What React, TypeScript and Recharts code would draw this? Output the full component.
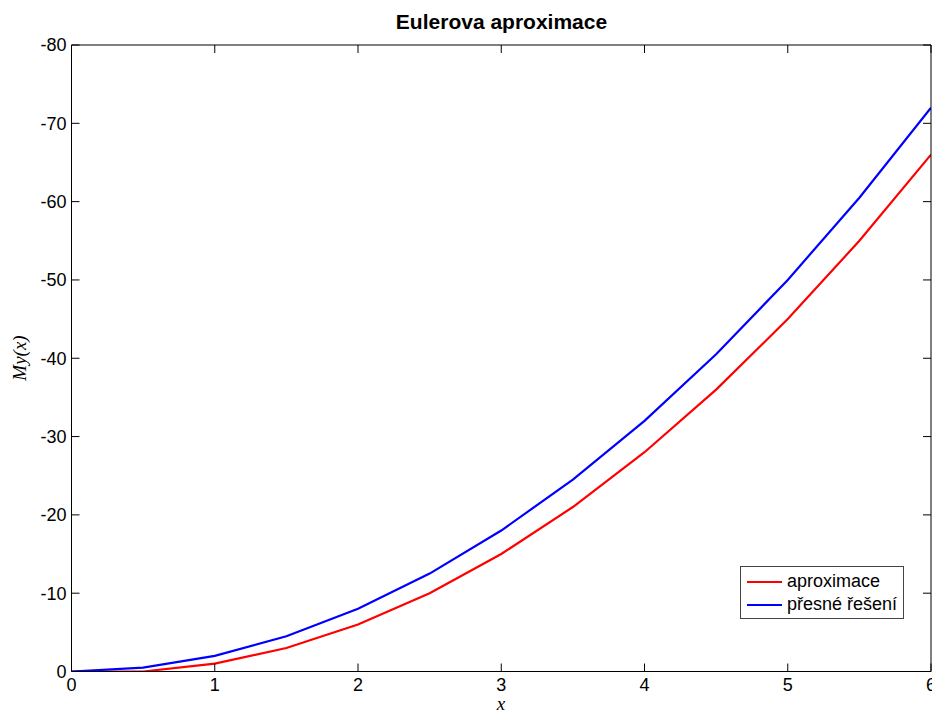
import React from 'react';
import { LineChart, Line, XAxis, YAxis, Legend } from 'recharts';

// x values (step 0.5) and the two series
const xValues = [0, 0.5, 1, 1.5, 2, 2.5, 3, 3.5, 4, 4.5, 5, 5.5, 6];
const aproximace = [0, 0, -1, -3, -6, -10, -15, -21, -28, -36, -45, -55, -66];
const presneReseni = [0, -0.5, -2, -4.5, -8, -12.5, -18, -24.5, -32, -40.5, -50, -60.5, -72];

const xTicks = [0, 1, 2, 3, 4, 5, 6];
const yTicks = [-80, -70, -60, -50, -40, -30, -20, -10, 0];

const seriesNames = ['aproximace', 'přesné řešení'];
const seriesColors = ['#ff0000', '#0000ff'];

const data = xValues.map((x, i) => ({
  x,
  aproximace: aproximace[i],
  presne: presneReseni[i],
}));

const FONT = '"Liberation Sans", Arial, sans-serif';
const TICK_LEN = 8;
const AXIS_COLOR = '#000';

// MATLAB style ticks: pointing into the plot box
function LeftTick(props: any) {
  const { x, y, payload } = props;
  const ax = x + 5;
  return (
    <g>
      <line x1={ax} x2={ax + TICK_LEN} y1={y} y2={y} stroke={AXIS_COLOR} />
      <text x={x} y={y} dy="0.36em" textAnchor="end" fontSize={18} fontFamily={FONT} fill="#000">
        {payload.value}
      </text>
    </g>
  );
}

function BottomTick(props: any) {
  const { x, y, payload } = props;
  const ay = y - 7;
  return (
    <g>
      <line x1={x} x2={x} y1={ay} y2={ay - TICK_LEN} stroke={AXIS_COLOR} />
      <text x={x} y={y} dy="0.71em" textAnchor="middle" fontSize={18} fontFamily={FONT} fill="#000">
        {payload.value}
      </text>
    </g>
  );
}

function RightTick(props: any) {
  const { x, y } = props;
  return <line x1={x} x2={x - TICK_LEN} y1={y} y2={y} stroke={AXIS_COLOR} />;
}

function TopTick(props: any) {
  const { x, y } = props;
  return <line x1={x} x2={x} y1={y} y2={y + TICK_LEN} stroke={AXIS_COLOR} />;
}

function LegendBox() {
  return (
    <div
      style={{
        width: 162,
        height: 51,
        border: '1px solid #444',
        background: '#fff',
        fontFamily: FONT,
        fontSize: 18,
        color: '#000',
        boxSizing: 'content-box',
      }}
    >
      {seriesNames.map((name, i) => (
        <div key={name} style={{ display: 'flex', alignItems: 'center', height: 23, marginTop: i === 0 ? 3 : 0 }}>
          <svg width={46} height={23} style={{ display: 'block' }}>
            <line x1={6} x2={41} y1={12} y2={12} stroke={seriesColors[i]} strokeWidth={2} />
          </svg>
          <span style={{ lineHeight: '23px' }}>{name}</span>
        </div>
      ))}
    </div>
  );
}

export default function App() {
  return (
    <div style={{ position: 'absolute', left: 0, top: 0, width: 932, height: 713, background: '#fff', overflow: 'hidden' }}>
      <LineChart width={932} height={713} data={data} margin={{ top: 44, right: 0, bottom: 0, left: 0 }}>
        <XAxis
          dataKey="x"
          type="number"
          domain={[0, 6]}
          ticks={xTicks}
          interval={0}
          allowDataOverflow
          height={41.5}
          tickSize={0}
          tickMargin={7}
          tickLine={false}
          axisLine={{ stroke: AXIS_COLOR }}
          tick={<BottomTick />}
        />
        <XAxis
          xAxisId="top"
          orientation="top"
          dataKey="x"
          type="number"
          domain={[0, 6]}
          ticks={xTicks}
          interval={0}
          allowDataOverflow
          height={1}
          tickSize={0}
          tickMargin={0}
          tickLine={false}
          axisLine={{ stroke: AXIS_COLOR }}
          tick={<TopTick />}
        />
        <YAxis
          type="number"
          domain={[-80, 0]}
          ticks={yTicks}
          interval={0}
          reversed
          allowDataOverflow
          width={71.5}
          tickSize={0}
          tickMargin={5}
          tickLine={false}
          axisLine={{ stroke: AXIS_COLOR }}
          tick={<LeftTick />}
        />
        <YAxis
          yAxisId="right"
          orientation="right"
          type="number"
          domain={[-80, 0]}
          ticks={yTicks}
          interval={0}
          reversed
          allowDataOverflow
          width={1}
          tickSize={0}
          tickMargin={0}
          tickLine={false}
          axisLine={{ stroke: AXIS_COLOR }}
          tick={<RightTick />}
        />
        <Legend
          layout="horizontal"
          verticalAlign="middle"
          align="center"
          content={<LegendBox />}
          wrapperStyle={{ left: 740, top: 566, right: 'auto', bottom: 'auto', width: 164 }}
        />
        <Line
          type="linear"
          dataKey="aproximace"
          name={seriesNames[0]}
          stroke={seriesColors[0]}
          strokeWidth={2.2}
          dot={false}
          isAnimationActive={false}
        />
        <Line
          type="linear"
          dataKey="presne"
          name={seriesNames[1]}
          stroke={seriesColors[1]}
          strokeWidth={2.2}
          dot={false}
          isAnimationActive={false}
        />
      </LineChart>
      <div
        style={{
          position: 'absolute',
          left: 0,
          width: 1003,
          top: 9,
          textAlign: 'center',
          fontFamily: FONT,
          fontWeight: 'bold',
          fontSize: 21,
          lineHeight: '26px',
          color: '#000',
        }}
      >
        Eulerova aproximace
      </div>
      <div
        style={{
          position: 'absolute',
          left: 20,
          top: 358,
          transform: 'translate(-50%, -50%) rotate(-90deg)',
          fontFamily: '"Liberation Serif", "Times New Roman", serif',
          fontStyle: 'italic',
          fontSize: 19,
          whiteSpace: 'nowrap',
          color: '#000',
        }}
      >
        My(x)
      </div>
      <div
        style={{
          position: 'absolute',
          left: 501,
          top: 695,
          transform: 'translateX(-50%)',
          fontFamily: '"Liberation Serif", "Times New Roman", serif',
          fontStyle: 'italic',
          fontSize: 19,
          lineHeight: '17px',
          color: '#000',
        }}
      >
        x
      </div>
    </div>
  );
}
